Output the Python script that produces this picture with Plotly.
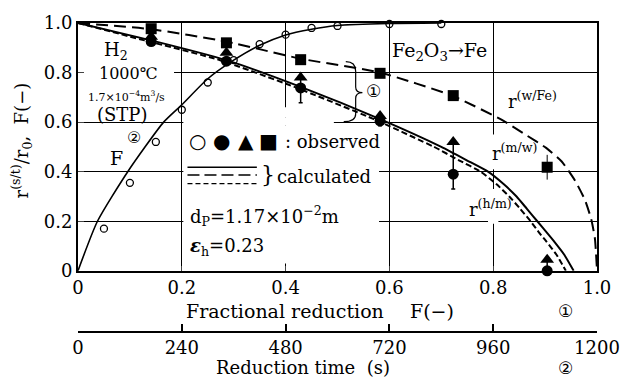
import plotly.graph_objects as go

# ---------------- data ----------------
# observed fractional reduction F vs reduction time (s)
t_obs = [60, 120, 180, 240, 300, 360, 420, 480, 540, 600, 720, 840]
F_obs = [0.17, 0.355, 0.52, 0.65, 0.76, 0.85, 0.915, 0.953, 0.98, 0.988, 0.996, 0.996]
# calculated F vs time
t_calc = [0, 45, 115, 198, 240, 300, 360, 420, 480, 540, 600, 720, 840]
F_calc = [0, 0.2, 0.4, 0.6, 0.67, 0.775, 0.85, 0.91, 0.952, 0.975, 0.99, 0.998, 1.0]

# observed interface radii vs fractional reduction
F_pts = [0.141, 0.286, 0.429, 0.582, 0.723, 0.904]
r_sq = [0.977, 0.92, 0.852, 0.797, 0.707, 0.418]       # r(w/Fe)
r_tri = [0.945, 0.88, 0.78, 0.625, 0.52, 0.045]        # r(m/w)
r_cir = [0.925, 0.846, 0.738, 0.605, 0.39, 0.0]        # r(h/m)
cir_err_up = [0, 0, 0.04, 0.02, 0.13, 0.04]
cir_err_dn = [0, 0, 0.06, 0.02, 0.06, 0]
sq_err = [0, 0, 0, 0, 0, 0.05]

# calculated curves
wFe_x = [0, 0.141, 0.286, 0.429, 0.582, 0.723, 0.82, 0.864, 0.902, 0.932, 0.958, 0.977, 0.989, 0.996, 1.0]
wFe_y = [1.0, 0.975, 0.925, 0.856, 0.8, 0.705, 0.605, 0.547, 0.496, 0.441, 0.363, 0.285, 0.207, 0.13, 0.0]
mw_x = [0, 0.141, 0.286, 0.429, 0.582, 0.7, 0.75, 0.79, 0.82, 0.845, 0.865, 0.885, 0.905, 0.918, 0.937, 0.955]
mw_y = [1.0, 0.93, 0.85, 0.742, 0.612, 0.5, 0.445, 0.4, 0.35, 0.3, 0.25, 0.2, 0.15, 0.117, 0.065, 0.0]
hm_x = [0, 0.128, 0.274, 0.417, 0.57, 0.686, 0.735, 0.776, 0.806, 0.831, 0.852, 0.872, 0.89, 0.903, 0.922, 0.94]
hm_y = [1.0, 0.93, 0.85, 0.742, 0.612, 0.5, 0.445, 0.4, 0.35, 0.3, 0.25, 0.2, 0.15, 0.117, 0.065, 0.0]

F_ticks = [0, 0.2, 0.4, 0.6, 0.8, 1.0]
F_ticktext = ["0", "0.2", "0.4", "0.6", "0.8", "1.0"]
t_ticks = [0, 240, 480, 720, 960, 1200]

SERIF = "DejaVu Serif"
SYM = "DejaVu Sans"
W, H = 632, 378
ML, MR, MT, MB = 78, 23, 14, 20
PW, PH = W - ML - MR, H - MT - MB


def P(px, py):
    return (px - ML) / PW, (H - MB - py) / PH


fig = go.Figure()

# calculated r curves
fig.add_trace(go.Scatter(x=wFe_x, y=wFe_y, mode="lines",
                         line=dict(color="black", width=2, dash="12px,6px", shape="spline", smoothing=0.5),
                         hoverinfo="skip"))
fig.add_trace(go.Scatter(x=mw_x, y=mw_y, mode="lines",
                         line=dict(color="black", width=2, shape="spline", smoothing=0.5), hoverinfo="skip"))
fig.add_trace(go.Scatter(x=hm_x, y=hm_y, mode="lines",
                         line=dict(color="black", width=2, dash="6px,3px", shape="spline", smoothing=0.5),
                         hoverinfo="skip"))

# calculated F vs time
fig.add_trace(go.Scatter(x=t_calc, y=F_calc, xaxis="x2", yaxis="y", mode="lines",
                         line=dict(color="black", width=1.6, shape="spline", smoothing=0.6), hoverinfo="skip"))
# observed F
fig.add_trace(go.Scatter(x=t_obs, y=F_obs, xaxis="x2", yaxis="y", mode="markers",
                         marker=dict(symbol="circle-open", size=7, color="black", line=dict(width=1.3)),
                         cliponaxis=False))

# observed r markers
fig.add_trace(go.Scatter(x=F_pts, y=r_sq, mode="markers",
                         marker=dict(symbol="square", size=11, color="black"),
                         error_y=dict(type="data", array=sq_err, color="black", thickness=1, width=0),
                         cliponaxis=False))
fig.add_trace(go.Scatter(x=F_pts, y=r_cir, mode="markers",
                         marker=dict(symbol="circle", size=11, color="black"),
                         error_y=dict(type="data", symmetric=False, array=cir_err_up, arrayminus=cir_err_dn,
                                      color="black", thickness=1.5, width=2),
                         cliponaxis=False))
fig.add_trace(go.Scatter(x=F_pts, y=r_tri, mode="markers",
                         marker=dict(symbol="triangle-up", size=12, color="black"),
                         cliponaxis=False))


# white patches hiding the grid under the texts (between grid and traces)
def patch(x0, x1, y0, y1):
    fig.add_shape(type="rect", xref="x", yref="y", x0=x0, x1=x1, y0=y0, y1=y1,
                  fillcolor="white", line=dict(width=0), layer="between")


patch(0.203, 0.58, 0.03, 0.585)
patch(0.203, 0.493, 0.585, 0.62)
patch(0.39, 0.41, 0.62, 0.66)
patch(0.008, 0.185, 0.62, 0.95)
patch(0.79, 0.81, 0.41, 0.55)
patch(0.79, 0.81, 0.19, 0.33)

# brace for (1)
fig.add_shape(type="path", xref="x", yref="y",
              path="M 0.516,0.844 Q 0.535,0.844 0.535,0.805 L 0.535,0.742 Q 0.535,0.719 0.548,0.719 "
                   "Q 0.535,0.719 0.535,0.695 L 0.535,0.633 Q 0.535,0.602 0.512,0.602",
              line=dict(color="black", width=1.2), layer="above")

# line legend for "calculated"
for py, dash in [(163, "solid"), (171, "12px,5px"), (180, "5px,3px")]:
    x0, y0 = P(190, py)
    x1, _ = P(261, py)
    fig.add_shape(type="line", xref="paper", yref="paper", x0=x0, x1=x1, y0=y0, y1=y0,
                  line=dict(color="black", width=1.3, dash=dash))

ann = []


def T(px, py, text, size=18, font=SERIF, xanchor="center", angle=0):
    x, y = P(px, py)
    ann.append(dict(x=x, y=y, xref="paper", yref="paper", text=text, showarrow=False,
                    xanchor=xanchor, yanchor="middle", textangle=angle,
                    font=dict(family=font, size=size, color="black")))


T(117, 43, "H<sub>2</sub>", 18)
T(130, 66, "1000℃", 16)
T(128, 90, "1.7×10<sup>−4</sup>m<sup>3</sup>/s", 11)
T(124, 109, "(STP)", 18)
T(135, 132, "②", 16, SYM)
T(117, 153, "F", 19)
for px, s in [(200, "○"), (225, "●"), (250, "▲"), (273, "■")]:
    T(px, 136, s, 20, SYM)
T(288, 136, ": observed", 18, xanchor="left")
T(263, 170, "}", 22, xanchor="left")
T(280, 173, "calculated", 18, xanchor="left")
T(191, 213, "d<sub>P</sub>=1.17×10<sup>−2</sup>m", 18, xanchor="left")
T(191, 245, "<b><i>ε</i></b><sub>h</sub>=0.23", 18, xanchor="left")
T(397, 43, "Fe<sub>2</sub>O<sub>3</sub>→Fe", 19, xanchor="left")
T(516, 94, "r<sup>(w/Fe)</sup>", 18, xanchor="left")
T(500, 147, "r<sup>(m/w)</sup>", 18, xanchor="left")
T(476, 205, "r<sup>(h/m)</sup>", 18, xanchor="left")
T(380, 84, "①", 17, SYM)
T(186, 312, "Fractional reduction", 19, xanchor="left")
T(416, 312, "F(−)", 19, xanchor="left")
T(577, 312, "①", 17, SYM)
T(217, 370, "Reduction time  (s)", 18, xanchor="left")
T(577, 370, "②", 17, SYM)
T(20, 135, "r<sup>(s/t)</sup>/r<sub>0</sub>,  F(−)", 18, angle=-90)

tickfont = dict(family=SERIF, size=18, color="black")
fig.update_layout(
    width=W, height=H,
    margin=dict(l=ML, r=MR, t=MT, b=MB, pad=0),
    paper_bgcolor="white", plot_bgcolor="white",
    showlegend=False,
    annotations=ann,
    xaxis=dict(range=[0, 1], tickvals=F_ticks, ticktext=F_ticktext, ticks="inside", ticklen=5,
               showline=True, mirror=True, linecolor="black", linewidth=2,
               showgrid=True, gridcolor="black", gridwidth=1.2, zeroline=False, tickfont=tickfont),
    xaxis2=dict(range=[0, 1200], overlaying="x", anchor="free", position=(H - MB - 333) / PH, side="bottom",
                tickvals=t_ticks, ticks="inside", ticklen=7, tickcolor="black", tickwidth=1.5,
                showline=True, linecolor="black", linewidth=1.8, showgrid=False, zeroline=False,
                tickfont=tickfont),
    yaxis=dict(range=[0, 1], domain=[(H - MB - 270) / PH, 1], tickvals=F_ticks, ticktext=F_ticktext,
               ticks="inside", ticklen=6, showline=True, mirror=True, linecolor="black", linewidth=2,
               showgrid=True, gridcolor="black", gridwidth=1.2, zeroline=False, tickfont=tickfont),
)

fig.write_html("out.html")
